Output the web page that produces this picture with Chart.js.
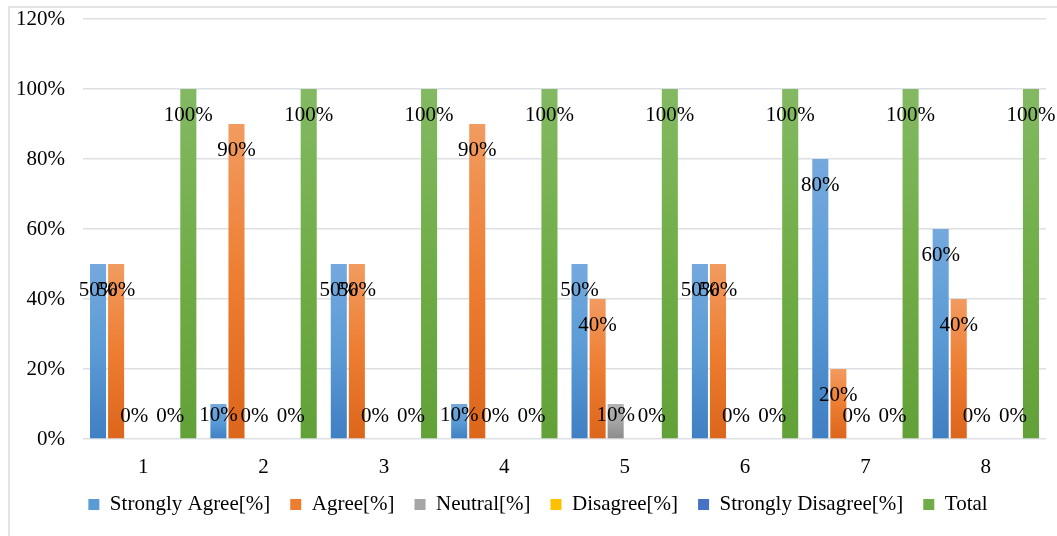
<!DOCTYPE html>
<html>
<head>
<meta charset="utf-8">
<title>Survey responses by item</title>
<script src="https://cdn.jsdelivr.net/npm/chart.js@4/dist/chart.umd.min.js"></script>
<style>
  html, body { margin: 0; padding: 0; background: #ffffff; }
  #wrap { position: relative; width: 1057px; height: 536px; }
</style>
</head>
<body>
<div id="wrap"><canvas id="chart" width="1057" height="536"></canvas></div>
<script>
// Survey items and response shares (percent)
const categories = ['1', '2', '3', '4', '5', '6', '7', '8'];
const stronglyAgree = [50, 10, 50, 10, 50, 50, 80, 60];
const agree = [50, 90, 50, 90, 40, 50, 20, 40];
const neutral = [0, 0, 0, 0, 10, 0, 0, 0];
const disagree = [null, null, null, null, null, null, null, null];
const stronglyDisagree = [0, 0, 0, 0, 0, 0, 0, 0];
const total = [100, 100, 100, 100, 100, 100, 100, 100];
const yTicks = [0, 20, 40, 60, 80, 100, 120];

const SERIF = '"Liberation Serif", "Times New Roman", serif';
const FONT_SIZE = 21;

// light top -> base -> dark bottom for each series
const palette = {
  sa: ['#74a9de', '#5b9bd5', '#3f7fc3'],
  ag: ['#f29b60', '#ed7d31', '#dc661b'],
  ne: ['#b3b3b3', '#a5a5a5', '#8b8b8b'],
  di: ['#ffcf40', '#ffc000', '#e6a800'],
  sd: ['#6a8fd3', '#4472c4', '#345ea9'],
  to: ['#83b962', '#70ad47', '#62a038']
};

function barFill(stops) {
  return function (c) {
    const chart = c.chart;
    const ys = chart.scales && chart.scales.y;
    if (!chart.chartArea || !ys || c.type !== 'data' || !c.parsed || c.parsed.y == null) {
      return stops[1];
    }
    const top = ys.getPixelForValue(c.parsed.y);
    const bottom = ys.getPixelForValue(0);
    if (!isFinite(top) || !isFinite(bottom) || bottom - top < 1) return stops[1];
    const g = chart.ctx.createLinearGradient(0, top, 0, bottom);
    g.addColorStop(0, stops[0]);
    g.addColorStop(0.5, stops[1]);
    g.addColorStop(1, stops[2]);
    return g;
  };
}

function series(label, data, stops) {
  return {
    label: label,
    data: data,
    backgroundColor: barFill(stops),
    legendColor: stops[1],
    borderWidth: 0,
    categoryPercentage: 0.9,
    barPercentage: 0.89
  };
}

// Frame around the chart
const framePlugin = {
  id: 'frame',
  beforeDraw(chart) {
    const ctx = chart.ctx;
    ctx.save();
    ctx.fillStyle = '#ffffff';
    ctx.fillRect(0, 0, chart.width, chart.height);
    ctx.strokeStyle = '#d9dce1';
    ctx.lineWidth = 1.5;
    ctx.beginPath();
    ctx.moveTo(9, chart.height);
    ctx.lineTo(9, 7);
    ctx.lineTo(chart.width, 7);
    ctx.stroke();
    ctx.restore();
  }
};

// Centre the legend row under the whole frame rather than the plot box
const legendShift = {
  id: 'legendShift',
  afterLayout(chart) {
    const lg = chart.legend;
    if (!lg) return;
    lg.left += 15;
    lg.right += 15;
  }
};

// Value labels near the top of each bar
const valueLabels = {
  id: 'valueLabels',
  afterDatasetsDraw(chart) {
    const ctx = chart.ctx;
    ctx.save();
    ctx.font = FONT_SIZE + 'px ' + SERIF;
    ctx.fillStyle = '#000000';
    ctx.textAlign = 'center';
    ctx.textBaseline = 'middle';
    chart.data.datasets.forEach((ds, di) => {
      const meta = chart.getDatasetMeta(di);
      if (meta.hidden) return;
      meta.data.forEach((bar, i) => {
        const v = ds.data[i];
        if (v == null) return;
        const y = Math.min(bar.y + 26, bar.base - 23);
        ctx.fillText(v + '%', bar.x, y);
      });
    });
    ctx.restore();
  }
};

new Chart(document.getElementById('chart'), {
  type: 'bar',
  data: {
    labels: categories,
    datasets: [
      series('Strongly Agree[%]', stronglyAgree, palette.sa),
      series('Agree[%]', agree, palette.ag),
      series('Neutral[%]', neutral, palette.ne),
      series('Disagree[%]', disagree, palette.di),
      series('Strongly Disagree[%]', stronglyDisagree, palette.sd),
      series('Total', total, palette.to)
    ]
  },
  options: {
    responsive: false,
    animation: false,
    layout: { padding: { left: 0, right: 11, top: 19, bottom: 11 } },
    plugins: {
      tooltip: { enabled: false },
      legend: {
        position: 'bottom',
        labels: {
          font: { family: SERIF, size: FONT_SIZE },
          color: '#000000',
          boxWidth: 11,
          boxHeight: 11,
          padding: 20,
          generateLabels(chart) {
            return chart.data.datasets.map((ds, i) => ({
              text: ds.label,
              fillStyle: ds.legendColor,
              strokeStyle: ds.legendColor,
              lineWidth: 0,
              hidden: !chart.isDatasetVisible(i),
              datasetIndex: i,
              fontColor: '#000000'
            }));
          }
        }
      }
    },
    scales: {
      x: {
        grid: { display: false, drawTicks: false },
        border: { display: false },
        ticks: { font: { family: SERIF, size: FONT_SIZE }, color: '#000000', padding: 16 },
        afterFit(s) { s.height = 35; }
      },
      y: {
        min: yTicks[0],
        max: yTicks[yTicks.length - 1],
        afterBuildTicks(s) { s.ticks = yTicks.map(v => ({ value: v })); },
        grid: { color: '#dcdfe4', lineWidth: 1.5, drawTicks: false },
        border: { display: false },
        ticks: {
          font: { family: SERIF, size: FONT_SIZE },
          color: '#000000',
          padding: 18,
          callback: v => v + '%'
        },
        afterFit(s) {
          s.width = 83;
          s.paddingTop = 0;
          s.paddingBottom = 0;
        }
      }
    }
  },
  plugins: [framePlugin, legendShift, valueLabels]
});
</script>
</body>
</html>
